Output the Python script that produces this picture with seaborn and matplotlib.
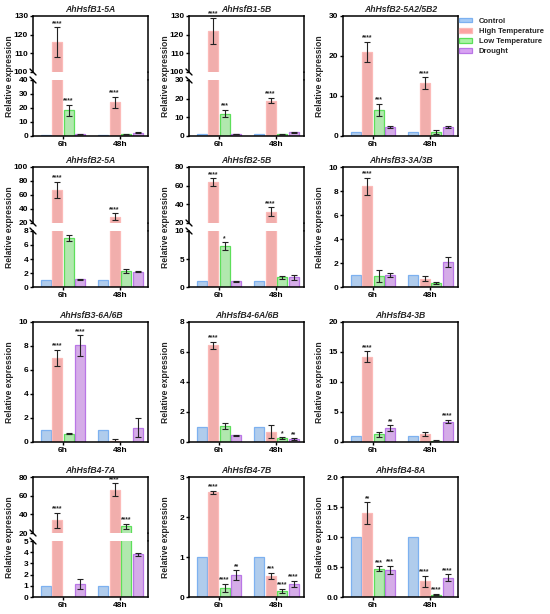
import numpy as np
import pandas as pd
import matplotlib
matplotlib.use("Agg")
import matplotlib.pyplot as plt
import seaborn as sns
from matplotlib.patches import Patch
from matplotlib.lines import Line2D

# ---- data ([6h, 48h]) ----
genes = ["AhHsfB1-5A", "AhHsfB1-5B", "AhHsfB2-5A2/5B2",
         "AhHsfB2-5A", "AhHsfB2-5B", "AhHsfB3-3A/3B",
         "AhHsfB3-6A/6B", "AhHsfB4-6A/6B", "AhHsfB4-3B",
         "AhHsfB4-7A", "AhHsfB4-7B", "AhHsfB4-8A"]
times = ["6h", "48h"]
treatments = ["Control", "High Temperature", "Low Temperature", "Drought"]

control_mean = [[1, 1]] * 12
high_mean = [[116, 24], [122, 19], [21, 13.2], [67, 29], [64, 32], [8.4, 0.7],
             [7.0, 0.1], [6.45, 0.7], [14.2, 1.3], [33.5, 66.5], [2.62, 0.52], [1.4, 0.26]]
low_mean = [[18.5, 1.2], [12, 1.0], [6.5, 1.0], [7.0, 2.3], [7.3, 1.7], [0.9, 0.35],
            [0.7, 0.0], [1.1, 0.25], [1.3, 0.2], [0.0, 27], [0.23, 0.16], [0.47, 0.04]]
drought_mean = [[1.2, 2.5], [1.0, 2.0], [2.2, 2.3], [1.1, 2.2], [1.0, 1.7], [1.0, 2.1],
                [8.05, 1.2], [0.45, 0.2], [2.3, 3.4], [1.15, 3.8], [0.55, 0.33], [0.45, 0.32]]

control_sd = [[0, 0]] * 12
high_sd = [[8, 4], [7, 1.5], [2.5, 1.5], [12, 5], [4, 5], [0.7, 0.2],
           [0.7, 0.15], [0.25, 0.42], [0.9, 0.35], [8, 7], [0.04, 0.08], [0.18, 0.09]]
low_sd = [[4, 0.3], [2, 0.2], [1.5, 0.5], [0.4, 0.3], [0.7, 0.3], [0.5, 0.1],
          [0.05, np.nan], [0.2, 0.08], [0.4, 0.1], [np.nan, 3], [0.1, 0.05], [0.04, 0.01]]
drought_sd = [[0.2, 0.3], [0.1, 0.2], [0.3, 0.3], [0.05, 0.05], [0.05, 0.5], [0.2, 0.4],
              [0.85, 0.8], [0.03, 0.06], [0.5, 0.3], [0.45, 0.15], [0.12, 0.08], [0.07, 0.06]]

high_stars = [["****", "****"], ["****", "****"], ["****", "****"], ["****", "****"],
              ["****", "****"], ["****", ""], ["****", ""], ["****", ""], ["****", ""],
              ["****", "****"], ["****", "***"], ["**", "****"]]
low_stars = [["****", ""], ["***", ""], ["***", ""], ["", ""], ["*", ""], ["", ""],
             ["", ""], ["", "*"], ["", ""], ["", "****"], ["****", "****"], ["***", "****"]]
drought_stars = [["", ""], ["", ""], ["", ""], ["", ""], ["", ""], ["", ""],
                 ["****", ""], ["", "**"], ["**", "****"], ["", ""], ["**", "****"], ["***", "****"]]
control_stars = [["", ""]] * 12

# axis ranges: lower range and (for broken axes) upper range
lower_range = [(0, 40), (0, 30), (0, 30), (0, 8), (0, 10), (0, 10),
               (0, 10), (0, 8), (0, 20), (0, 5), (0, 3), (0, 2)]
lower_step = [10, 10, 10, 2, 5, 2, 2, 2, 5, 1, 1, 0.5]
upper_range = [(100, 130), (100, 130), None, (20, 100), (20, 80), None,
               None, None, None, (20, 80), None, None]
upper_step = [10, 10, None, 20, 20, None, None, None, None, 20, None, None]

means = [control_mean, high_mean, low_mean, drought_mean]
sds = [control_sd, high_sd, low_sd, drought_sd]
stars = [control_stars, high_stars, low_stars, drought_stars]

fill_colors = ["#a6cbf6", "#fca3a1", "#a8f2a4", "#d8a2f2"]
edge_colors = ["#7db1f0", "#fcbab8", "#5ddf5a", "#b976e6"]

sns.set_style("ticks")
plt.rcParams["font.family"] = ["Liberation Sans", "DejaVu Sans"]
plt.rcParams["font.weight"] = "bold"

W, H = 550, 614
fig = plt.figure(figsize=(5.5, 6.14), dpi=100)

col_left = [33, 189, 343]
row_top = [16, 167, 322, 477]
pw, ph = 115, 120
gap = 8
SPINE = 1.1
TICK_FS = 6
LABEL_FS = 6.2
TITLE_FS = 6.2


def rect(left, top, w, h):
    return [left / W, 1 - (top + h) / H, w / W, h / H]


def gene_frame(g):
    rows = []
    for i, tr in enumerate(treatments):
        for j, t in enumerate(times):
            rows.append({"time": t, "treatment": tr, "value": means[i][g][j]})
    return pd.DataFrame(rows)


def draw_bars(ax, g):
    sns.barplot(data=gene_frame(g), x="time", y="value", hue="treatment",
                order=times, hue_order=treatments, palette=fill_colors,
                errorbar=None, gap=0.15, width=0.8, legend=False,
                linewidth=0.9, ax=ax)
    conts = list(ax.containers)
    for i, cont in enumerate(conts):
        for j, bar in enumerate(cont):
            bar.set_edgecolor(edge_colors[i])
            x = bar.get_x() + bar.get_width() / 2
            sd = sds[i][g][j]
            if not np.isnan(sd) and sd > 0:
                ax.errorbar(x, means[i][g][j], yerr=sd, fmt="none", ecolor="#222222",
                            elinewidth=0.8, capsize=2.2, capthick=0.8, zorder=5)
    ax.set_xlim(-0.52, 1.48)
    ax.set_xlabel("")
    ax.set_ylabel("")
    return conts


def add_stars(ax_list, conts, g):
    for i, cont in enumerate(conts):
        for j, bar in enumerate(cont):
            s = stars[i][g][j]
            if not s:
                continue
            sd = sds[i][g][j]
            top = means[i][g][j] + (0 if np.isnan(sd) else sd)
            ax = ax_list[0]
            for a in ax_list:
                lo, hi = a.get_ylim()
                if lo <= top <= hi * 1.05:
                    ax = a
            x = bar.get_x() + bar.get_width() / 2
            ax.annotate(s, (x, top), xytext=(0, 0.2), textcoords="offset points",
                        ha="center", va="bottom", fontsize=4.8, fontweight="bold",
                        annotation_clip=False)


def style(ax):
    for s in ax.spines.values():
        s.set_linewidth(SPINE)
        s.set_color("black")
    ax.tick_params(axis="both", length=2.5, width=1, labelsize=TICK_FS, pad=1,
                   colors="black")


def set_yticks(ax, rng, step):
    ticks = np.arange(rng[0], rng[1] + step / 2, step)
    ax.set_yticks(ticks)
    if step < 1:
        ax.set_yticklabels([f"{t:.1f}" for t in ticks])
    else:
        ax.set_yticklabels([f"{t:g}" for t in ticks])
    ax.set_ylim(rng)


for g, name in enumerate(genes):
    r, c = divmod(g, 3)
    left, top = col_left[c], row_top[r]
    fig.text((left - 23) / W, 1 - (top + ph / 2) / H, "Relative expression",
             rotation=90, ha="center", va="center", fontsize=LABEL_FS, fontweight="bold")
    if upper_range[g] is None:
        ax = fig.add_axes(rect(left, top, pw, ph))
        conts = draw_bars(ax, g)
        set_yticks(ax, lower_range[g], lower_step[g])
        style(ax)
        ax.set_title(name, fontsize=TITLE_FS, fontweight="bold", style="italic", pad=3)
        add_stars([ax], conts, g)
    else:
        hh = (ph - gap) / 2
        ax_up = fig.add_axes(rect(left, top, pw, hh))
        ax_lo = fig.add_axes(rect(left, top + hh + gap, pw, hh))
        draw_bars(ax_lo, g)
        conts_up = draw_bars(ax_up, g)
        set_yticks(ax_lo, lower_range[g], lower_step[g])
        set_yticks(ax_up, upper_range[g], upper_step[g])
        style(ax_lo)
        style(ax_up)
        ax_lo.spines["top"].set_visible(False)
        ax_up.spines["bottom"].set_visible(False)
        ax_up.tick_params(axis="x", bottom=False, labelbottom=False)
        ax_up.set_title(name, fontsize=TITLE_FS, fontweight="bold", style="italic", pad=3)
        add_stars([ax_lo, ax_up], conts_up, g)
        # continuous right spine across the gap
        xr = (left + pw) / W
        y1 = 1 - (top + hh) / H
        y2 = 1 - (top + hh + gap) / H
        fig.add_artist(Line2D([xr, xr], [y1, y2], transform=fig.transFigure,
                              color="black", lw=SPINE))
        # break marks on the left spine
        dx, dy = 3 / W, 3 / H
        xl = left / W
        for yy in (y1, y2):
            fig.add_artist(Line2D([xl - dx, xl + dx], [yy + dy, yy - dy],
                                  transform=fig.transFigure, color="black", lw=1.0))

handles = [Patch(facecolor=f, edgecolor=e, linewidth=0.9) for f, e in zip(fill_colors, edge_colors)]
fig.legend(handles, treatments, loc="upper left", bbox_to_anchor=(459 / W, 1 - 18 / H),
           frameon=False, prop={"size": 5.5, "weight": "bold"},
           handlelength=1.7, handleheight=0.5, labelspacing=0.4, handletextpad=0.9,
           borderaxespad=0, borderpad=0)

fig.savefig("out.png", dpi=100)
